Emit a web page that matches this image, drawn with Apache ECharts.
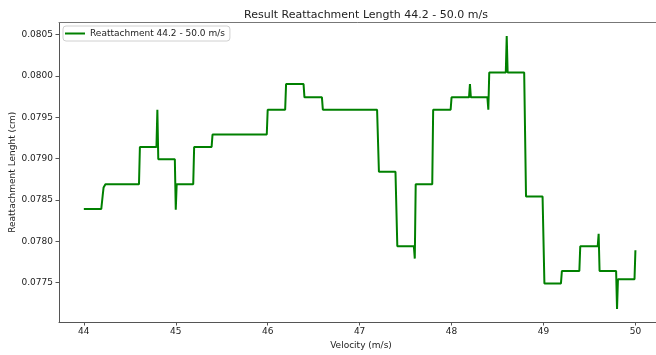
<!DOCTYPE html>
<html>
<head>
<meta charset="utf-8">
<script src="https://cdn.jsdelivr.net/npm/echarts@6/dist/echarts.min.js"></script>
<style>
html,body{margin:0;padding:0;background:#fff;}
#c{width:656px;height:355px;}
</style>
</head>
<body>
<div id="c"></div>
<script>
var titleText = 'Result Reattachment Length 44.2 - 50.0 m/s';
var seriesName = 'Reattachment 44.2 - 50.0 m/s';
var xName = 'Velocity (m/s)';
var yName = 'Reattachment Lenght (cm)';
var xTicks = [44, 45, 46, 47, 48, 49, 50];
var yTicks = [0.0775, 0.0780, 0.0785, 0.0790, 0.0795, 0.0800, 0.0805];

var velocity = [
  44.00, 44.19, 44.205, 44.215, 44.235,
  44.60, 44.61,
  44.79, 44.80, 44.81,
  44.99, 45.00, 45.01,
  45.19, 45.20,
  45.39, 45.40,
  45.99, 46.00,
  46.19, 46.20,
  46.39, 46.40,
  46.59, 46.60,
  47.19, 47.21,
  47.39, 47.41,
  47.59, 47.60, 47.61,
  47.79, 47.80,
  47.99, 48.00,
  48.19, 48.20, 48.21,
  48.39, 48.40, 48.41,
  48.59, 48.60, 48.61,
  48.79, 48.81,
  48.99, 49.01,
  49.19, 49.20,
  49.39, 49.40,
  49.59, 49.60, 49.61,
  49.79, 49.80, 49.81,
  49.99, 50.00
];
var reattachment = [
  0.07839, 0.07839, 0.07855, 0.07865, 0.07869,
  0.07869, 0.07914,
  0.07914, 0.07959, 0.07899,
  0.07899, 0.07838, 0.07869,
  0.07869, 0.07914,
  0.07914, 0.07929,
  0.07929, 0.07959,
  0.07959, 0.07990,
  0.07990, 0.07974,
  0.07974, 0.07959,
  0.07959, 0.07884,
  0.07884, 0.07794,
  0.07794, 0.07779, 0.07869,
  0.07869, 0.07959,
  0.07959, 0.07974,
  0.07974, 0.07990, 0.07974,
  0.07974, 0.07959, 0.08004,
  0.08004, 0.08048, 0.08004,
  0.08004, 0.07854,
  0.07854, 0.07749,
  0.07749, 0.07764,
  0.07764, 0.07794,
  0.07794, 0.07809, 0.07764,
  0.07764, 0.07718, 0.07754,
  0.07754, 0.07789
];

var data = velocity.map(function (v, i) { return [v, reattachment[i]]; });
var font = 'DejaVu Sans';
var axisColor = '#555';
var xMin = 43.73, xMax = 50.3;

var chart = echarts.init(document.getElementById('c'), null, {renderer: 'canvas'});
chart.setOption({
  animation: false,
  backgroundColor: '#fff',
  title: {
    text: titleText,
    left: 361, top: 5, textAlign: 'center',
    textStyle: {fontFamily: font, fontSize: 11, fontWeight: 'normal', color: '#222'}
  },
  legend: {
    left: 63, top: 26,
    data: [{name: seriesName, icon: 'rect'}],
    itemWidth: 20, itemHeight: 2,
    padding: [3, 5, 3, 2],
    borderColor: '#d0d0d0', borderWidth: 1, borderRadius: 3,
    backgroundColor: '#fff',
    textStyle: {fontFamily: font, fontSize: 9, color: '#222'}
  },
  grid: {
    left: 59, right: -7, top: 22.5, bottom: 33,
    show: false,
    outerBoundsMode: 'none', containLabel: false
  },
  xAxis: [{
    type: 'value', min: xMin, max: xMax,
    name: xName, nameLocation: 'middle', nameGap: 19, nameMoveOverlap: false,
    nameTextStyle: {fontFamily: font, fontSize: 9, color: '#222'},
    axisLine: {show: true, onZero: false, lineStyle: {color: axisColor, width: 1}},
    axisTick: {show: true, length: 3.5, customValues: xTicks, lineStyle: {color: axisColor}},
    axisLabel: {customValues: xTicks, margin: 5, fontFamily: font, fontSize: 9, color: '#222',
      formatter: function (v) { return String(v); }},
    splitLine: {show: false}
  }, {
    type: 'value', min: xMin, max: xMax, position: 'top',
    axisLine: {show: true, onZero: false, lineStyle: {color: '#777', width: 1}},
    axisTick: {show: false}, axisLabel: {show: false}, splitLine: {show: false}
  }],
  yAxis: {
    type: 'value', min: 0.077023, max: 0.080645,
    name: yName, nameLocation: 'middle', nameGap: 42, nameRotate: 90, nameMoveOverlap: false,
    nameTextStyle: {fontFamily: font, fontSize: 9, color: '#222'},
    axisLine: {show: true, onZero: false, lineStyle: {color: axisColor, width: 1}},
    axisTick: {show: true, length: 3.5, customValues: yTicks, lineStyle: {color: axisColor}},
    axisLabel: {customValues: yTicks, margin: 6, fontFamily: font, fontSize: 9, color: '#222',
      formatter: function (v) { return v.toFixed(4); }},
    splitLine: {show: false}
  },
  series: [{
    name: seriesName,
    type: 'line',
    xAxisIndex: 0,
    data: data,
    showSymbol: false,
    symbol: 'none',
    lineStyle: {color: '#008000', width: 2},
    itemStyle: {color: '#008000'}
  }]
});
</script>
</body>
</html>
